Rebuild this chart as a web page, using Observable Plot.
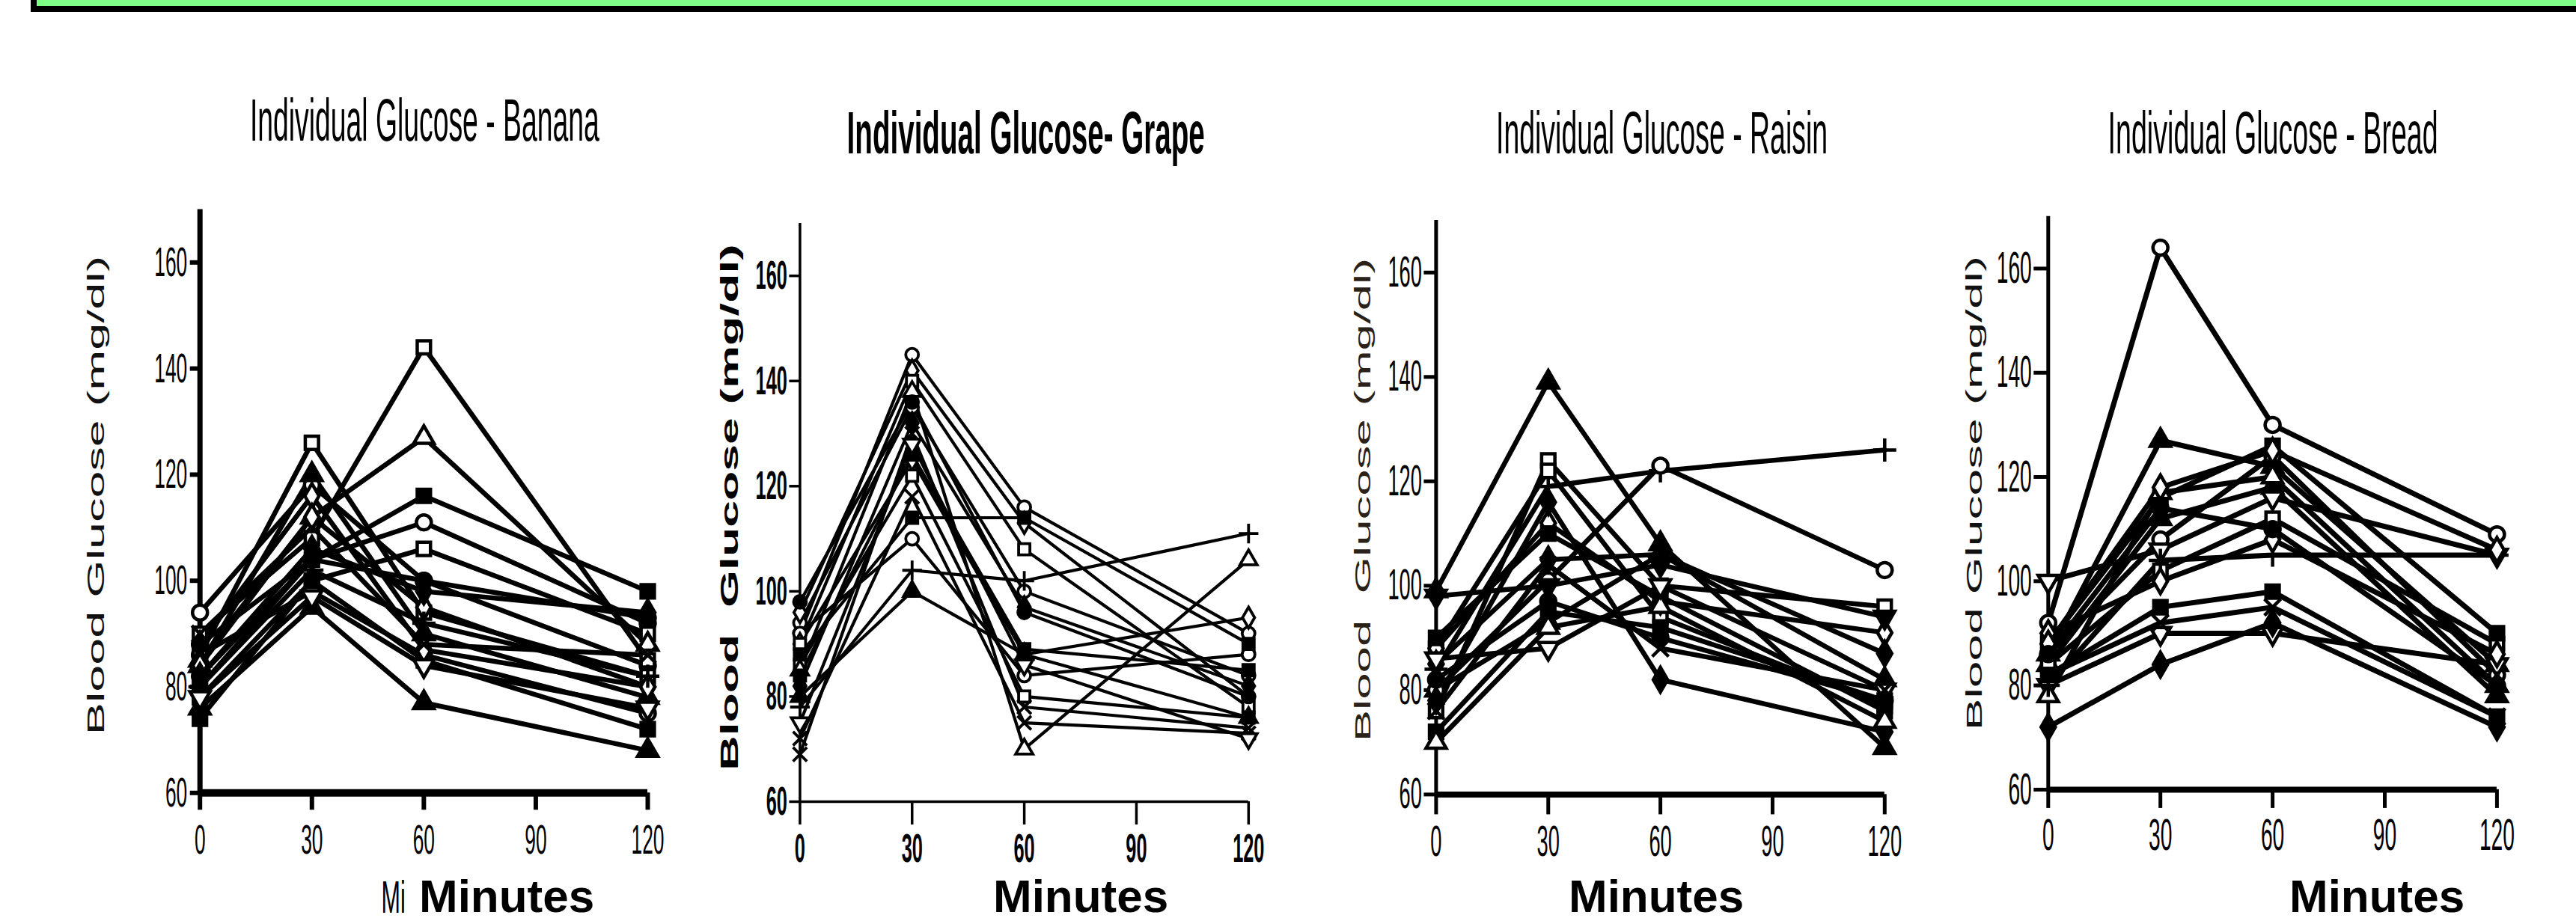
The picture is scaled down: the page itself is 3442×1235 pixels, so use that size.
<!DOCTYPE html>
<html><head><meta charset="utf-8">
<script src="https://cdn.jsdelivr.net/npm/d3@7"></script>
<script src="https://cdn.jsdelivr.net/npm/@observablehq/plot@0.6"></script>
<style>
body{margin:0;background:#fff;}
#page{position:relative;width:3442px;height:1235px;overflow:hidden;background:#fff;font-family:"Liberation Sans",Arial,sans-serif;}
.lab{position:absolute;white-space:pre;line-height:1;color:#000;}
</style></head><body><div id="page"></div>
<script>
// ---------- data ----------
const minutes = [0, 30, 60, 120];
const xTicks = [0, 30, 60, 90, 120];
const yTicks = [60, 80, 100, 120, 140, 160];

// each subject: glucose at 0, 30, 60, 120 minutes
const bananaSubjects = [
  [94, 118, 100, 84], [86, 126, 94, 82], [85, 112, 127, 88], [80, 104, 116, 98],
  [90, 108, 144, 85], [82, 104, 111, 92], [78, 100, 106, 90], [76, 95, 77, 68],
  [84, 120, 90, 78], [88, 116, 87, 80], [80, 102, 92, 82], [86, 98, 86, 75],
  [74, 100, 85, 72], [82, 106, 98, 94], [90, 110, 88, 86], [78, 97, 84, 76],
  [84, 112, 95, 80], [88, 104, 100, 93]
];
const grapeSubjects = [
  [92, 145, 116, 92], [96, 142, 113, 80], [90, 140, 108, 78], [85, 138, 70, 106],
  [78, 104, 102, 111], [80, 100, 88, 76], [69, 130, 78, 74], [88, 114, 114, 90],
  [94, 135, 100, 84], [82, 132, 97, 82], [75, 128, 86, 72], [90, 125, 88, 95],
  [86, 122, 80, 76], [98, 136, 96, 80], [72, 118, 75, 73], [92, 110, 84, 88],
  [84, 126, 89, 85]
];
const raisinSubjects = [
  [99, 139, 108, 69], [84, 119, 122, 126], [80, 101, 123, 103], [76, 124, 100, 96],
  [88, 112, 97, 91], [78, 116, 82, 72], [85, 105, 106, 87], [98, 100, 104, 94],
  [72, 95, 92, 78], [70, 92, 96, 74], [86, 88, 100, 80], [90, 110, 98, 76],
  [82, 97, 90, 78], [76, 104, 88, 80], [88, 122, 94, 77], [80, 93, 106, 82]
];
const breadSubjects = [
  [92, 164, 130, 109], [86, 127, 122, 84], [100, 106, 116, 105], [84, 102, 112, 88],
  [82, 95, 98, 74], [80, 90, 90, 84], [72, 84, 92, 72], [88, 116, 126, 90],
  [78, 117, 120, 80], [86, 108, 124, 82], [80, 104, 105, 105], [84, 112, 118, 78],
  [90, 100, 108, 86], [82, 92, 95, 74], [86, 114, 110, 80], [88, 118, 125, 106]
];

const panelTitles = ["Individual Glucose - Banana", "Individual Glucose- Grape", "Individual Glucose - Raisin", "Individual Glucose - Bread"];
const yAxisLabels = ["Blood Glucose (mg/dl)", "Blood  Glucose (mg/dl)", "Blood  Glucose (mg/dl)", "Blood Glucose (mg/dl)"];
const xAxisLabel = "Minutes";
const strayLabel = "Mi";

// ---------- marker styles (per subject) ----------
const bananaMarkers = ["circle-open","square-open","triangle-open","square-filled","square-open","circle-open","square-open","triangle-filled","triangle-filled","diamond-open","plus","circle-open","square-filled","diamond-filled","times","triangleDown-open","diamond-open","circle-filled"];
const grapeMarkers = ["circle-open","diamond-open","square-open","triangle-open","plus","triangle-filled","times","square-filled","circle-open","diamond-filled","triangleDown-open","diamond-open","square-open","circle-filled","times","circle-open","square-filled"];
const raisinMarkers = ["triangle-filled","plus","circle-open","square-open","diamond-open","diamond-filled","diamond-filled","triangleDown-filled","square-filled","triangle-open","triangleDown-open","square-filled","circle-filled","times","square-open","triangle-filled"];
const breadMarkers = ["circle-open","triangle-filled","triangleDown-open","square-open","square-filled","triangleDown-open","diamond-filled","square-filled","triangle-open","circle-open","plus","triangle-filled","diamond-open","times","circle-filled","diamond-open"];

const sqrt3 = Math.sqrt(3);
const triangleDown = {draw(ctx, size) {
  const y = -Math.sqrt(size / (sqrt3 * 3));
  ctx.moveTo(0, -2 * y); ctx.lineTo(-sqrt3 * y, y); ctx.lineTo(sqrt3 * y, y); ctx.closePath();
}};
const symbolFor = {circle: "circle", square: "square", triangle: "triangle", diamond: "diamond", plus: "plus", times: "times", triangleDown: triangleDown};

const page = document.getElementById("page");

// top banner
const bar = document.createElement("div");
bar.style.cssText = "position:absolute;left:41px;top:0;right:0;height:16px;background:#000;";
page.appendChild(bar);
const green = document.createElement("div");
green.style.cssText = "position:absolute;left:49px;top:0;right:0;height:8px;background:#7fff88;";
page.appendChild(green);

const panels = [
  {subjects: bananaSubjects, markers: bananaMarkers, left: 0, width: 960, x0: 266.7, x1: 865, yB: 1059.3, yT: 279.4,
   lineW: 6.5, axX: 10, axY: 7, tickW: 6, txs: 23, txp: 18, tys: 13, typ: 4, font: 56, bold: false, r: 10, mW: 4.5},
  {subjects: grapeSubjects, markers: grapeMarkers, left: 960, width: 800, x0: 1068.4, x1: 1667.8, yB: 1071, yT: 297.9,
   lineW: 4.2, axX: 3.5, axY: 3.5, tickW: 3.5, txs: 31, txp: 11, tys: 14, typ: 3, font: 54, bold: true, r: 8.5, mW: 3.8},
  {subjects: raisinSubjects, markers: raisinMarkers, left: 1760, width: 840, x0: 1918.4, x1: 2517.8, yB: 1061.4, yT: 294.0,
   lineW: 6.5, axX: 8, axY: 5, tickW: 5, txs: 27, txp: 14, tys: 16, typ: 3, font: 58, bold: false, r: 10, mW: 4.5},
  {subjects: breadSubjects, markers: breadMarkers, left: 2600, width: 842, x0: 2736.3, x1: 3335.9, yB: 1054.9, yT: 288.8,
   lineW: 7, axX: 8, axY: 5, tickW: 5, txs: 25, txp: 13, tys: 19, typ: 3, font: 60, bold: false, r: 10, mW: 4.5}
];

panels.forEach((p) => {
  const rows = p.subjects.flatMap((vals, i) => minutes.map((m, j) => ({subject: i, minute: m, glucose: vals[j]})));
  const keys = Array.from(new Set(p.markers));
  const dots = keys.map((key) => {
    const [shape, kind] = key.split("-");
    const fill = kind === "filled" ? "black" : (shape === "plus" || shape === "times") ? "none" : "white";
    return Plot.dot(rows.filter((d) => p.markers[d.subject] === key), {
      x: "minute", y: "glucose", symbol: symbolFor[shape], r: p.r, stroke: "black", strokeWidth: p.mW, fill
    });
  });
  const svg = Plot.plot({
    width: p.width, height: 1235,
    marginLeft: p.x0 - p.left, marginRight: p.left + p.width - p.x1,
    marginTop: p.yT, marginBottom: 1235 - p.yB,
    x: {domain: [0, 120]}, y: {domain: [60, 170]},
    style: {fontFamily: "'Liberation Sans', Arial, sans-serif", background: "transparent", overflow: "visible", fontWeight: p.bold ? "bold" : "normal", color: "black"},
    marks: [
      Plot.axisX({ticks: xTicks, tickSize: p.txs, tickPadding: p.txp, fontSize: p.font, label: null, strokeWidth: p.tickW}),
      Plot.axisY({ticks: yTicks, tickSize: p.tys, tickPadding: p.typ, fontSize: p.font, label: null, strokeWidth: p.tickW}),
      Plot.ruleX([0], {y1: 60, y2: 170, strokeWidth: p.axY, stroke: "black"}),
      Plot.ruleY([60], {x1: 0, x2: 120, strokeWidth: p.axX, stroke: "black"}),
      Plot.line(rows, {x: "minute", y: "glucose", z: "subject", stroke: "black", strokeWidth: p.lineW, strokeLinejoin: "miter"}),
      ...dots
    ]
  });
  svg.querySelectorAll("text").forEach((t) => {
    const tr = t.getAttribute("transform");
    if (tr) t.setAttribute("transform", tr + " scale(0.47,1)");
    else {
      const x = +t.getAttribute("x") || 0, y = +t.getAttribute("y") || 0;
      t.removeAttribute("x"); t.removeAttribute("y");
      t.setAttribute("transform", `translate(${x},${y}) scale(0.47,1)`);
    }
  });
  svg.style.position = "absolute";
  svg.style.left = p.left + "px";
  svg.style.top = "0px";
  page.appendChild(svg);
});

function label(text, o) {
  const d = document.createElement("div");
  d.className = "lab";
  d.textContent = text;
  d.style.fontSize = o.size + "px";
  d.style.fontWeight = o.weight || 400;
  d.style.color = o.color || "#000";
  if (o.spacing) d.style.letterSpacing = o.spacing + "px";
  page.appendChild(d);
  const w = d.offsetWidth, h = d.offsetHeight;
  const sx = o.len ? o.len / w : 1;
  const sy = o.across || 1;
  d.style.left = (o.cx - w / 2) + "px";
  d.style.top = (o.cy - h / 2) + "px";
  d.style.transform = o.rotate ? `rotate(-90deg) scale(${sx},${sy})` : `scale(${sx},${sy})`;
}

// titles
const titleLayout = [
  {cx: 567, cy: 161, len: 467, weight: 400},
  {cx: 1370, cy: 178, len: 478, weight: 700},
  {cx: 2220, cy: 178, len: 443, weight: 400},
  {cx: 3037, cy: 178, len: 441, weight: 400}
];
panelTitles.forEach((t, i) => label(t, {size: 80, ...titleLayout[i]}));

// y-axis labels
const yLabLayout = [
  {cx: 128, cy: 662, len: 640, across: 0.5, weight: 400, color: "#111"},
  {cx: 975, cy: 678, len: 704, across: 0.53, weight: 700, color: "#000"},
  {cx: 1821, cy: 668, len: 647, across: 0.47, weight: 400, color: "#2a2218"},
  {cx: 2637, cy: 659, len: 634, across: 0.47, weight: 400, color: "#111"}
];
yAxisLabels.forEach((t, i) => label(t, {size: 62, rotate: true, ...yLabLayout[i]}));

// x-axis labels
[677, 1444, 2213, 3176].forEach((cx) => label(xAxisLabel, {size: 62, weight: 700, cx, cy: 1198}));
label(strayLabel, {size: 62, cx: 525, cy: 1199, len: 32});
</script></body></html>
